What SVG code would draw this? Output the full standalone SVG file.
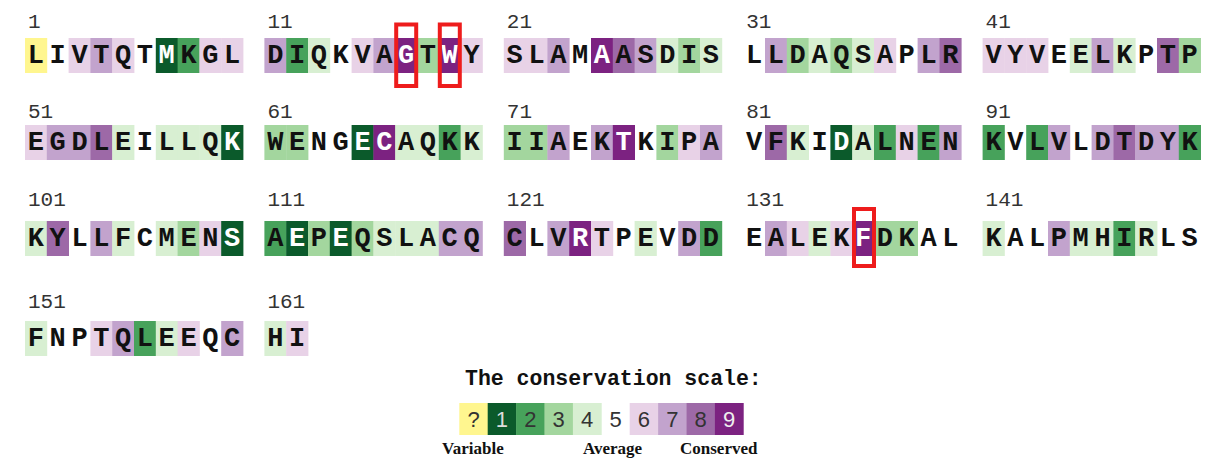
<svg xmlns="http://www.w3.org/2000/svg" width="1209" height="459" viewBox="0 0 1209 459">
<style>
.gy{fill:#fff68f}.g1{fill:#0b5a2b}.g2{fill:#47a25b}.g3{fill:#a3d69e}.g4{fill:#d8efd2}.g6{fill:#e8d2e7}.g7{fill:#c2a3cd}.g8{fill:#9d69a7}.g9{fill:#7c2281}
.r{font-family:"Liberation Mono","DejaVu Sans Mono",monospace;font-weight:bold;font-size:27px;text-anchor:middle;fill:#111}
.w{fill:#fff}
.n{font-family:"Liberation Mono","DejaVu Sans Mono",monospace;font-size:21px;fill:#333}
.hl{fill:none;stroke:#ee1c1c;stroke-width:4}
.ttl{font-family:"Liberation Mono","DejaVu Sans Mono",monospace;font-weight:bold;font-size:21.5px;fill:#111}
.ld{font-family:"Liberation Sans",Arial,sans-serif;font-size:22px;text-anchor:middle;fill:#333}
.lb{font-family:"Liberation Serif","Times New Roman",serif;font-weight:bold;font-size:17px;fill:#111}
</style>
<defs>
<rect id="c" width="22.2" height="35"/>
</defs>

<g id="block-1" transform="translate(25,38)">
<text class="n" x="3" y="-10">1</text>
<use href="#c" x="0" class="gy"/><use href="#c" x="43.6" class="g6"/><use href="#c" x="65.4" class="g7"/><use href="#c" x="87.2" class="g6"/><use href="#c" x="130.8" class="g1"/><use href="#c" x="152.6" class="g2"/><use href="#c" x="174.4" class="g6"/><use href="#c" x="196.2" class="g6"/>
<text class="r" x="10.9" y="25">L</text><text class="r" x="32.7" y="25">I</text><text class="r" x="54.5" y="25">V</text><text class="r" x="76.3" y="25">T</text><text class="r" x="98.1" y="25">Q</text><text class="r" x="119.9" y="25">T</text><text class="r w" x="141.7" y="25">M</text><text class="r" x="163.5" y="25">K</text><text class="r" x="185.3" y="25">G</text><text class="r" x="207.1" y="25">L</text>
</g>

<g id="block-11" transform="translate(264.4,38)">
<text class="n" x="3" y="-10">11</text>
<use href="#c" x="0" class="g7"/><use href="#c" x="21.8" class="g2"/><use href="#c" x="43.6" class="g4"/><use href="#c" x="87.2" class="g6"/><use href="#c" x="109" class="g7"/><use href="#c" x="130.8" class="g9"/><use href="#c" x="152.6" class="g3"/><use href="#c" x="174.4" class="g9"/><use href="#c" x="196.2" class="g6"/>
<text class="r" x="10.9" y="25">D</text><text class="r" x="32.7" y="25">I</text><text class="r" x="54.5" y="25">Q</text><text class="r" x="76.3" y="25">K</text><text class="r" x="98.1" y="25">V</text><text class="r" x="119.9" y="25">A</text><text class="r w" x="141.7" y="25">G</text><text class="r" x="163.5" y="25">T</text><text class="r w" x="185.3" y="25">W</text><text class="r" x="207.1" y="25">Y</text>
</g>

<g id="block-21" transform="translate(503.8,38)">
<text class="n" x="3" y="-10">21</text>
<use href="#c" x="0" class="g6"/><use href="#c" x="21.8" class="g6"/><use href="#c" x="43.6" class="g7"/><use href="#c" x="87.2" class="g9"/><use href="#c" x="109" class="g8"/><use href="#c" x="130.8" class="g7"/><use href="#c" x="152.6" class="g4"/><use href="#c" x="174.4" class="g3"/><use href="#c" x="196.2" class="g4"/>
<text class="r" x="10.9" y="25">S</text><text class="r" x="32.7" y="25">L</text><text class="r" x="54.5" y="25">A</text><text class="r" x="76.3" y="25">M</text><text class="r w" x="98.1" y="25">A</text><text class="r" x="119.9" y="25">A</text><text class="r" x="141.7" y="25">S</text><text class="r" x="163.5" y="25">D</text><text class="r" x="185.3" y="25">I</text><text class="r" x="207.1" y="25">S</text>
</g>

<g id="block-31" transform="translate(743.2,38)">
<text class="n" x="3" y="-10">31</text>
<use href="#c" x="21.8" class="g7"/><use href="#c" x="43.6" class="g3"/><use href="#c" x="65.4" class="g4"/><use href="#c" x="87.2" class="g3"/><use href="#c" x="109" class="g4"/><use href="#c" x="130.8" class="g6"/><use href="#c" x="174.4" class="g7"/><use href="#c" x="196.2" class="g8"/>
<text class="r" x="10.9" y="25">L</text><text class="r" x="32.7" y="25">L</text><text class="r" x="54.5" y="25">D</text><text class="r" x="76.3" y="25">A</text><text class="r" x="98.1" y="25">Q</text><text class="r" x="119.9" y="25">S</text><text class="r" x="141.7" y="25">A</text><text class="r" x="163.5" y="25">P</text><text class="r" x="185.3" y="25">L</text><text class="r" x="207.1" y="25">R</text>
</g>

<g id="block-41" transform="translate(982.6,38)">
<text class="n" x="3" y="-10">41</text>
<use href="#c" x="0" class="g6"/><use href="#c" x="21.8" class="g6"/><use href="#c" x="43.6" class="g6"/><use href="#c" x="87.2" class="g4"/><use href="#c" x="109" class="g7"/><use href="#c" x="130.8" class="g4"/><use href="#c" x="174.4" class="g8"/><use href="#c" x="196.2" class="g3"/>
<text class="r" x="10.9" y="25">V</text><text class="r" x="32.7" y="25">Y</text><text class="r" x="54.5" y="25">V</text><text class="r" x="76.3" y="25">E</text><text class="r" x="98.1" y="25">E</text><text class="r" x="119.9" y="25">L</text><text class="r" x="141.7" y="25">K</text><text class="r" x="163.5" y="25">P</text><text class="r" x="185.3" y="25">T</text><text class="r" x="207.1" y="25">P</text>
</g>

<g id="block-51" transform="translate(25,125)">
<text class="n" x="3" y="-7">51</text>
<use href="#c" x="0" class="g6"/><use href="#c" x="21.8" class="g7"/><use href="#c" x="43.6" class="g7"/><use href="#c" x="65.4" class="g8"/><use href="#c" x="87.2" class="g4"/><use href="#c" x="130.8" class="g4"/><use href="#c" x="152.6" class="g4"/><use href="#c" x="174.4" class="g4"/><use href="#c" x="196.2" class="g1"/>
<text class="r" x="10.9" y="25">E</text><text class="r" x="32.7" y="25">G</text><text class="r" x="54.5" y="25">D</text><text class="r" x="76.3" y="25">L</text><text class="r" x="98.1" y="25">E</text><text class="r" x="119.9" y="25">I</text><text class="r" x="141.7" y="25">L</text><text class="r" x="163.5" y="25">L</text><text class="r" x="185.3" y="25">Q</text><text class="r w" x="207.1" y="25">K</text>
</g>

<g id="block-61" transform="translate(264.4,125)">
<text class="n" x="3" y="-7">61</text>
<use href="#c" x="0" class="g3"/><use href="#c" x="21.8" class="g3"/><use href="#c" x="87.2" class="g1"/><use href="#c" x="109" class="g9"/><use href="#c" x="130.8" class="g4"/><use href="#c" x="152.6" class="g4"/><use href="#c" x="174.4" class="g2"/><use href="#c" x="196.2" class="g4"/>
<text class="r" x="10.9" y="25">W</text><text class="r" x="32.7" y="25">E</text><text class="r" x="54.5" y="25">N</text><text class="r" x="76.3" y="25">G</text><text class="r w" x="98.1" y="25">E</text><text class="r w" x="119.9" y="25">C</text><text class="r" x="141.7" y="25">A</text><text class="r" x="163.5" y="25">Q</text><text class="r" x="185.3" y="25">K</text><text class="r" x="207.1" y="25">K</text>
</g>

<g id="block-71" transform="translate(503.8,125)">
<text class="n" x="3" y="-7">71</text>
<use href="#c" x="0" class="g3"/><use href="#c" x="21.8" class="g3"/><use href="#c" x="43.6" class="g7"/><use href="#c" x="87.2" class="g7"/><use href="#c" x="109" class="g9"/><use href="#c" x="152.6" class="g3"/><use href="#c" x="174.4" class="g6"/><use href="#c" x="196.2" class="g7"/>
<text class="r" x="10.9" y="25">I</text><text class="r" x="32.7" y="25">I</text><text class="r" x="54.5" y="25">A</text><text class="r" x="76.3" y="25">E</text><text class="r" x="98.1" y="25">K</text><text class="r w" x="119.9" y="25">T</text><text class="r" x="141.7" y="25">K</text><text class="r" x="163.5" y="25">I</text><text class="r" x="185.3" y="25">P</text><text class="r" x="207.1" y="25">A</text>
</g>

<g id="block-81" transform="translate(743.2,125)">
<text class="n" x="3" y="-7">81</text>
<use href="#c" x="21.8" class="g8"/><use href="#c" x="43.6" class="g4"/><use href="#c" x="87.2" class="g1"/><use href="#c" x="109" class="g4"/><use href="#c" x="130.8" class="g2"/><use href="#c" x="152.6" class="g6"/><use href="#c" x="174.4" class="g2"/><use href="#c" x="196.2" class="g7"/>
<text class="r" x="10.9" y="25">V</text><text class="r" x="32.7" y="25">F</text><text class="r" x="54.5" y="25">K</text><text class="r" x="76.3" y="25">I</text><text class="r w" x="98.1" y="25">D</text><text class="r" x="119.9" y="25">A</text><text class="r" x="141.7" y="25">L</text><text class="r" x="163.5" y="25">N</text><text class="r" x="185.3" y="25">E</text><text class="r" x="207.1" y="25">N</text>
</g>

<g id="block-91" transform="translate(982.6,125)">
<text class="n" x="3" y="-7">91</text>
<use href="#c" x="0" class="g2"/><use href="#c" x="43.6" class="g2"/><use href="#c" x="65.4" class="g7"/><use href="#c" x="109" class="g7"/><use href="#c" x="130.8" class="g8"/><use href="#c" x="152.6" class="g7"/><use href="#c" x="174.4" class="g7"/><use href="#c" x="196.2" class="g2"/>
<text class="r" x="10.9" y="25">K</text><text class="r" x="32.7" y="25">V</text><text class="r" x="54.5" y="25">L</text><text class="r" x="76.3" y="25">V</text><text class="r" x="98.1" y="25">L</text><text class="r" x="119.9" y="25">D</text><text class="r" x="141.7" y="25">T</text><text class="r" x="163.5" y="25">D</text><text class="r" x="185.3" y="25">Y</text><text class="r" x="207.1" y="25">K</text>
</g>

<g id="block-101" transform="translate(25,221)">
<text class="n" x="3" y="-15">101</text>
<use href="#c" x="0" class="g4"/><use href="#c" x="21.8" class="g8"/><use href="#c" x="65.4" class="g7"/><use href="#c" x="87.2" class="g4"/><use href="#c" x="130.8" class="g4"/><use href="#c" x="152.6" class="g3"/><use href="#c" x="174.4" class="g6"/><use href="#c" x="196.2" class="g1"/>
<text class="r" x="10.9" y="25">K</text><text class="r" x="32.7" y="25">Y</text><text class="r" x="54.5" y="25">L</text><text class="r" x="76.3" y="25">L</text><text class="r" x="98.1" y="25">F</text><text class="r" x="119.9" y="25">C</text><text class="r" x="141.7" y="25">M</text><text class="r" x="163.5" y="25">E</text><text class="r" x="185.3" y="25">N</text><text class="r w" x="207.1" y="25">S</text>
</g>

<g id="block-111" transform="translate(264.4,221)">
<text class="n" x="3" y="-15">111</text>
<use href="#c" x="0" class="g2"/><use href="#c" x="21.8" class="g1"/><use href="#c" x="43.6" class="g3"/><use href="#c" x="65.4" class="g1"/><use href="#c" x="87.2" class="g3"/><use href="#c" x="109" class="g4"/><use href="#c" x="130.8" class="g4"/><use href="#c" x="152.6" class="g4"/><use href="#c" x="174.4" class="g7"/><use href="#c" x="196.2" class="g7"/>
<text class="r" x="10.9" y="25">A</text><text class="r w" x="32.7" y="25">E</text><text class="r" x="54.5" y="25">P</text><text class="r w" x="76.3" y="25">E</text><text class="r" x="98.1" y="25">Q</text><text class="r" x="119.9" y="25">S</text><text class="r" x="141.7" y="25">L</text><text class="r" x="163.5" y="25">A</text><text class="r" x="185.3" y="25">C</text><text class="r" x="207.1" y="25">Q</text>
</g>

<g id="block-121" transform="translate(503.8,221)">
<text class="n" x="3" y="-15">121</text>
<use href="#c" x="0" class="g8"/><use href="#c" x="43.6" class="g7"/><use href="#c" x="65.4" class="g9"/><use href="#c" x="87.2" class="g6"/><use href="#c" x="130.8" class="g4"/><use href="#c" x="174.4" class="g7"/><use href="#c" x="196.2" class="g2"/>
<text class="r" x="10.9" y="25">C</text><text class="r" x="32.7" y="25">L</text><text class="r" x="54.5" y="25">V</text><text class="r w" x="76.3" y="25">R</text><text class="r" x="98.1" y="25">T</text><text class="r" x="119.9" y="25">P</text><text class="r" x="141.7" y="25">E</text><text class="r" x="163.5" y="25">V</text><text class="r" x="185.3" y="25">D</text><text class="r" x="207.1" y="25">D</text>
</g>

<g id="block-131" transform="translate(743.2,221)">
<text class="n" x="3" y="-15">131</text>
<use href="#c" x="21.8" class="g7"/><use href="#c" x="43.6" class="g6"/><use href="#c" x="65.4" class="g4"/><use href="#c" x="87.2" class="g6"/><use href="#c" x="109" class="g9"/><use href="#c" x="130.8" class="g3"/><use href="#c" x="152.6" class="g3"/>
<text class="r" x="10.9" y="25">E</text><text class="r" x="32.7" y="25">A</text><text class="r" x="54.5" y="25">L</text><text class="r" x="76.3" y="25">E</text><text class="r" x="98.1" y="25">K</text><text class="r w" x="119.9" y="25">F</text><text class="r" x="141.7" y="25">D</text><text class="r" x="163.5" y="25">K</text><text class="r" x="185.3" y="25">A</text><text class="r" x="207.1" y="25">L</text>
</g>

<g id="block-141" transform="translate(982.6,221)">
<text class="n" x="3" y="-15">141</text>
<use href="#c" x="0" class="g4"/><use href="#c" x="65.4" class="g7"/><use href="#c" x="87.2" class="g4"/><use href="#c" x="109" class="g4"/><use href="#c" x="130.8" class="g2"/><use href="#c" x="152.6" class="g4"/>
<text class="r" x="10.9" y="25">K</text><text class="r" x="32.7" y="25">A</text><text class="r" x="54.5" y="25">L</text><text class="r" x="76.3" y="25">P</text><text class="r" x="98.1" y="25">M</text><text class="r" x="119.9" y="25">H</text><text class="r" x="141.7" y="25">I</text><text class="r" x="163.5" y="25">R</text><text class="r" x="185.3" y="25">L</text><text class="r" x="207.1" y="25">S</text>
</g>

<g id="block-151" transform="translate(25,321)">
<text class="n" x="3" y="-13">151</text>
<use href="#c" x="0" class="g4"/><use href="#c" x="65.4" class="g6"/><use href="#c" x="87.2" class="g7"/><use href="#c" x="109" class="g2"/><use href="#c" x="130.8" class="g4"/><use href="#c" x="152.6" class="g6"/><use href="#c" x="196.2" class="g7"/>
<text class="r" x="10.9" y="25">F</text><text class="r" x="32.7" y="25">N</text><text class="r" x="54.5" y="25">P</text><text class="r" x="76.3" y="25">T</text><text class="r" x="98.1" y="25">Q</text><text class="r" x="119.9" y="25">L</text><text class="r" x="141.7" y="25">E</text><text class="r" x="163.5" y="25">E</text><text class="r" x="185.3" y="25">Q</text><text class="r" x="207.1" y="25">C</text>
</g>

<g id="block-161" transform="translate(264.4,321)">
<text class="n" x="3" y="-13">161</text>
<use href="#c" x="0" class="g4"/><use href="#c" x="21.8" class="g6"/>
<text class="r" x="10.9" y="25">H</text><text class="r" x="32.7" y="25">I</text>
</g>

<g id="highlights">
<rect class="hl" x="396.2" y="24.5" width="20" height="61.5"/>
<rect class="hl" x="439.8" y="24.5" width="20" height="61.5"/>
<rect class="hl" x="854" y="209" width="20" height="57"/>
</g>

<g id="legend">
<text class="ttl" x="465" y="385">The conservation scale:</text>
<rect class="gy" x="459.3" y="403" width="28.8" height="32"/>
<rect class="g1" x="487.7" y="403" width="28.8" height="32"/>
<rect class="g2" x="516.1" y="403" width="28.8" height="32"/>
<rect class="g3" x="544.5" y="403" width="28.8" height="32"/>
<rect class="g4" x="572.9" y="403" width="28.8" height="32"/>
<rect class="g6" x="629.7" y="403" width="28.8" height="32"/>
<rect class="g7" x="658.1" y="403" width="28.8" height="32"/>
<rect class="g8" x="686.5" y="403" width="28.8" height="32"/>
<rect class="g9" x="714.9" y="403" width="28.8" height="32"/>
<text class="ld" x="473.5" y="427">?</text>
<text class="ld" x="501.9" y="427" style="fill:#ddd">1</text>
<text class="ld" x="530.3" y="427">2</text>
<text class="ld" x="558.7" y="427">3</text>
<text class="ld" x="587.1" y="427">4</text>
<text class="ld" x="615.5" y="427">5</text>
<text class="ld" x="643.9" y="427">6</text>
<text class="ld" x="672.3" y="427">7</text>
<text class="ld" x="700.7" y="427">8</text>
<text class="ld" x="729.1" y="427" style="fill:#eee">9</text>
<text class="lb" x="442" y="454">Variable</text>
<text class="lb" x="583" y="454">Average</text>
<text class="lb" x="680" y="454">Conserved</text>
</g>
</svg>
